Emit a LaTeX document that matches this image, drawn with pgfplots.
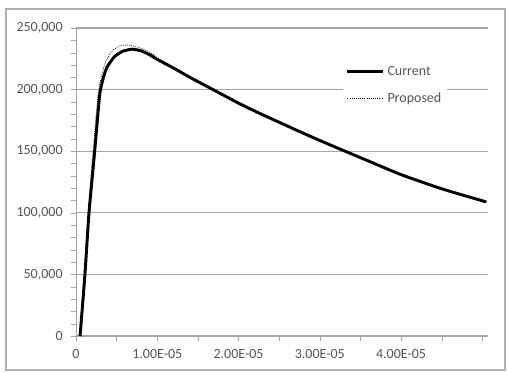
\documentclass[border=0pt]{standalone}
\usepackage{fontspec}
\setmainfont{Carlito}
\usepackage{pgfplots}
\pgfplotsset{compat=1.18}
\definecolor{gridc}{RGB}{165,165,165}
\definecolor{txtc}{RGB}{85,85,85}
\definecolor{framec}{RGB}{175,175,175}
\begin{document}
\begin{tikzpicture}[x=0.75pt,y=0.75pt]
\begin{axis}[
  scale only axis,
  width=309pt, height=231pt,
  xmin=0, xmax=5.07e-5,
  ymin=0, ymax=250000,
  axis x line=bottom, axis y line=left,
  axis line style={gridc,-},
  xtick={0,1e-5,2e-5,3e-5,4e-5},
  xticklabels={0,1.00E-05,2.00E-05,3.00E-05,4.00E-05},
  minor xtick={5e-6,1.5e-5,2.5e-5,3.5e-5,4.5e-5,5e-5},
  scaled x ticks=false,
  scaled y ticks=false,
  ytick={0,50000,100000,150000,200000,250000},
  minor ytick={10000,20000,30000,40000,60000,70000,80000,90000,110000,120000,130000,140000,160000,170000,180000,190000,210000,220000,230000,240000},
  ymajorgrids,
  major grid style={gridc, line width=0.8pt},
  tick align=outside,
  major tick length=3.5pt, minor tick length=3.5pt,
  tick style={gridc},
  /pgf/number format/1000 sep={,},
  /pgf/number format/fixed,
  /pgf/number format/assume math mode=true,
  ticklabel style={font=\fontsize{10.5}{12}\selectfont, text=txtc},
  xticklabel style={yshift=-3pt},
  yticklabel style={xshift=-3pt},
  legend style={at={(0.648,0.895)}, anchor=north west, draw=none, fill=white,
    font=\fontsize{10.5}{12}\selectfont, text=txtc, inner sep=2pt, row sep=8pt},
  legend cell align=left,
  legend image code/.code={\draw[#1] (0pt,0pt) -- (27pt,0pt);},
]
\addplot[black, line width=2.2pt, line join=round, smooth, tension=0.35] coordinates {
(0.5e-6,0) (1.1e-6,50000) (1.6e-6,100000) (2.3e-6,150000) (2.9e-6,195000)
(3.3e-6,208000) (3.8e-6,218000) (4.7e-6,226500) (5.7e-6,231000) (6.9e-6,232800)
(8.0e-6,231500) (9.0e-6,228500) (1.0e-5,224500) (1.2e-5,217500) (1.4e-5,210000)
(1.6e-5,203000) (1.8e-5,196000) (2.0e-5,189000) (2.25e-5,181000) (2.5e-5,173500)
(2.75e-5,166000) (3.0e-5,158700) (3.3e-5,150300) (3.6e-5,142000) (4.0e-5,131000)
(4.5e-5,119500) (5.05e-5,108800)
};
\addlegendentry{Current}
\addplot[black, line width=0.6pt, densely dotted, smooth, tension=0.35] coordinates {
(0.5e-6,0) (1.0e-6,50000) (1.5e-6,100000) (2.1e-6,150000) (2.7e-6,195000)
(3.1e-6,210000) (3.6e-6,222000) (4.4e-6,231000) (5.3e-6,235300) (6.3e-6,236200)
(7.3e-6,235000) (8.3e-6,232800) (9.2e-6,230000) (1.0e-5,226000) (1.2e-5,218000)
(1.4e-5,210000) (1.6e-5,203000)
};
\addlegendentry{Proposed}
\end{axis}
\draw[framec, line width=0.8pt] ([xshift=-52.5pt,yshift=-25.5pt]current axis.south west) rectangle ([xshift=12.75pt,yshift=14.25pt]current axis.north east);
\path[use as bounding box] ([xshift=-57pt,yshift=-27pt]current axis.south west) rectangle ([xshift=14.25pt,yshift=21pt]current axis.north east);
\end{tikzpicture}
\end{document}
